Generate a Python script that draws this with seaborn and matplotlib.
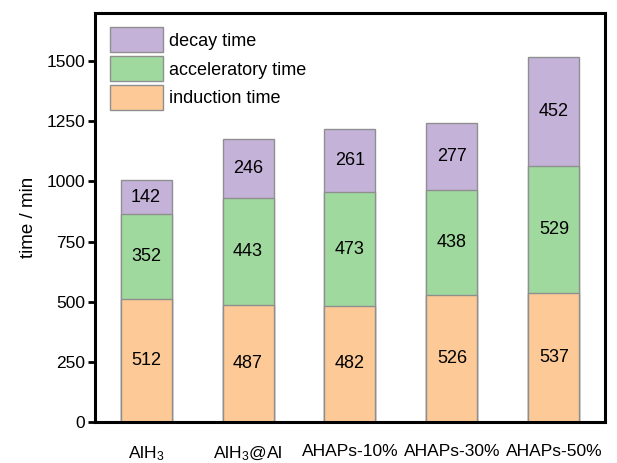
import pandas as pd
import matplotlib
matplotlib.use('Agg')
import matplotlib.pyplot as plt
import seaborn as sns
from matplotlib.patches import Patch

# data
samples = ['AlH$_3$', 'AlH$_3$@Al', 'AHAPs-10%', 'AHAPs-30%', 'AHAPs-50%']
induction = [512, 487, 482, 526, 537]
acceleratory = [352, 443, 473, 438, 529]
decay = [142, 246, 261, 277, 452]

c_ind = '#FDC996'
c_acc = '#9FD99E'
c_dec = '#C4B2D9'
edge = '#8f8f8f'

df = pd.DataFrame({'sample': samples, 'induction': induction,
                   'acceleratory': acceleratory, 'decay': decay})
df['ind_acc'] = df['induction'] + df['acceleratory']
df['total'] = df['ind_acc'] + df['decay']

sns.set_style('ticks')
plt.rcParams['font.family'] = ['Liberation Sans', 'DejaVu Sans']
plt.rcParams['mathtext.fontset'] = 'custom'
plt.rcParams['mathtext.rm'] = 'Liberation Sans'
plt.rcParams['mathtext.it'] = 'Liberation Sans:italic'
plt.rcParams['text.color'] = 'black'
plt.rcParams['axes.labelcolor'] = 'black'
plt.rcParams['xtick.color'] = 'black'
plt.rcParams['ytick.color'] = 'black'

fig = plt.figure(figsize=(6.17, 4.63), dpi=100)
ax = fig.add_axes([0.154, 0.0886, 0.8265, 0.8834])

# stacked bars drawn as cumulative layers, top layer first
sns.barplot(data=df, x='sample', y='total', color=c_dec, width=0.5,
            edgecolor=edge, linewidth=1, saturation=1, ax=ax)
sns.barplot(data=df, x='sample', y='ind_acc', color=c_acc, width=0.5,
            edgecolor=edge, linewidth=1, saturation=1, ax=ax)
sns.barplot(data=df, x='sample', y='induction', color=c_ind, width=0.5,
            edgecolor=edge, linewidth=1, saturation=1, ax=ax)

# segment labels
for i, row in df.iterrows():
    ax.text(i, row['induction'] / 2, str(row['induction']), ha='center', va='center', fontsize=13)
    ax.text(i, row['induction'] + row['acceleratory'] / 2, str(row['acceleratory']),
            ha='center', va='center', fontsize=13)
    ax.text(i, row['ind_acc'] + row['decay'] / 2, str(row['decay']),
            ha='center', va='center', fontsize=13)

ax.set_xlim(-0.5, 4.5)
ax.set_ylim(0, 1700)
ax.set_yticks([0, 250, 500, 750, 1000, 1250, 1500])
ax.set_xlabel('')
ax.set_ylabel('time / min', fontsize=13.5, labelpad=7)

for s in ax.spines.values():
    s.set_linewidth(2.2)
    s.set_color('black')
ax.tick_params(axis='y', length=5, width=2, labelsize=12.5, pad=2)
ax.tick_params(axis='x', length=0, labelsize=12.5, pad=16)

handles = [Patch(facecolor=c_dec, edgecolor=edge, label='decay time'),
           Patch(facecolor=c_acc, edgecolor=edge, label='acceleratory time'),
           Patch(facecolor=c_ind, edgecolor=edge, label='induction time')]
ax.legend(handles=handles, loc='upper left', bbox_to_anchor=(0.03, 0.965),
          frameon=False, fontsize=13, handlelength=2.9, handleheight=1.75,
          labelspacing=0.22, handletextpad=0.35, borderpad=0, borderaxespad=0)

plt.savefig('out.png', dpi=100)
